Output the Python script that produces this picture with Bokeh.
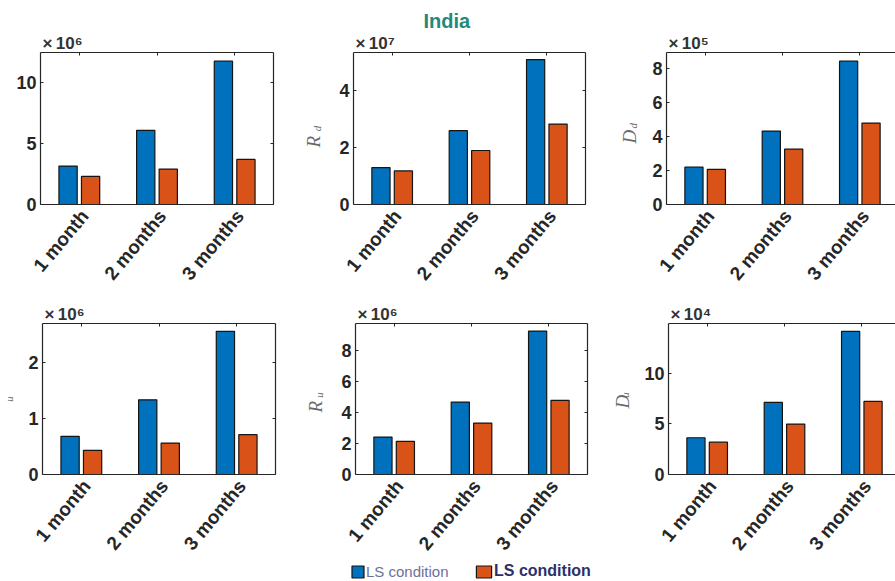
import math

from bokeh.embed import file_html
from bokeh.layouts import column, row
from bokeh.models import (ColumnDataSource, FixedTicker, Legend, LegendItem,
                          LinearAxis, Range1d, Title)
from bokeh.plotting import figure
from bokeh.resources import INLINE
from bokeh.transform import dodge

# ---------------------------------------------------------------- data
periods = ["1 month", "2 months", "3 months"]
legend_labels = ["LS condition", "LS condition"]

# bar heights as mantissas (value / 10**exponent), first and second scenario
i_d_first = [3.16, 6.10, 11.79]
i_d_second = [2.31, 2.91, 3.71]
r_d_first = [1.30, 2.60, 5.10]
r_d_second = [1.18, 1.90, 2.83]
d_d_first = [2.19, 4.31, 8.41]
d_d_second = [2.06, 3.25, 4.78]
i_u_first = [0.68, 1.33, 2.55]
i_u_second = [0.43, 0.56, 0.71]
r_u_first = [2.41, 4.66, 9.23]
r_u_second = [2.13, 3.31, 4.77]
d_u_first = [3.62, 7.11, 14.10]
d_u_second = [3.19, 4.97, 7.20]

exponents = [6, 7, 5, 6, 6, 4]
y_tops = [12.5, 5.35, 8.92, 2.69, 9.72, 14.88]
y_ticks = [[0, 5, 10], [0, 2, 4], [0, 2, 4, 6, 8],
           [0, 1, 2], [0, 2, 4, 6, 8], [0, 5, 10]]

# ---------------------------------------------------------------- style
BLUE = "#0072BD"
ORANGE = "#D95319"
EDGE = "#151515"
AXIS = "#262626"
LABEL_GRAY = "#6a6a6a"
FONT = "Liberation Sans"
SERIF = "Liberation Serif"
SUPERSCRIPT = str.maketrans("0123456789", "⁰¹²³⁴⁵⁶⁷⁸⁹")

positions = list(range(1, len(periods) + 1))
LABEL_SHIFT = 0.07          # category labels sit a little right of the group centre
BAR_OFFSET = 0.145
BAR_WIDTH = 0.235

# column geometry: left border, frame width, right border, x-range end
COLS = [(40, 233, 27, 3.5), (53, 232, 25, 3.5), (56, 229, 0, 0.5 + 3 * 229 / 232)]
# row geometry: top border, frame height, bottom border
ROWS = [(52, 152, 92), (27, 151, 86)]
PAGE_WIDTH = 895
LEGEND_HEIGHT = 21


def style_axis(ax, ticks):
    ax.ticker = FixedTicker(ticks=ticks)
    ax.axis_line_color = AXIS
    ax.axis_line_width = 1.2
    ax.major_tick_line_color = AXIS
    ax.minor_tick_line_color = None
    ax.major_tick_out = 0
    ax.major_tick_in = 3


def bare_axis(ticks):
    ax = LinearAxis(major_label_text_color=None, major_label_text_font_size="1px",
                    major_label_standoff=0)
    style_axis(ax, ticks)
    return ax


def add_bars(p, source, **kw):
    r1 = p.vbar(x=dodge("x", -BAR_OFFSET), top="first", width=BAR_WIDTH, source=source,
                fill_color=BLUE, line_color=EDGE, line_width=1.2, **kw)
    r2 = p.vbar(x=dodge("x", BAR_OFFSET), top="second", width=BAR_WIDTH, source=source,
                fill_color=ORANGE, line_color=EDGE, line_width=1.2, **kw)
    return r1, r2


def make_panel(first, second, exp, y_top, ticks, col, rowg, right_box=True):
    bl, fw, br, x_end = col
    bt, fh, bb = rowg
    p = figure(frame_width=fw, frame_height=fh,
               min_border_left=bl, min_border_right=br,
               min_border_top=bt, min_border_bottom=bb,
               x_range=Range1d(0.5, x_end), y_range=Range1d(0, y_top),
               output_backend="svg", toolbar_location=None,
               background_fill_color="white", border_fill_color="white",
               outline_line_color=None)
    p.xgrid.visible = False
    p.ygrid.visible = False

    add_bars(p, ColumnDataSource(dict(x=positions, first=first, second=second)))

    # bottom category axis, labels tilted
    label_ticks = [pos + LABEL_SHIFT for pos in positions]
    xa = p.xaxis[0]
    style_axis(xa, label_ticks)
    xa.major_tick_in = 0
    xa.major_label_overrides = {t: name for t, name in zip(label_ticks, periods)}
    xa.major_label_orientation = math.radians(50)
    xa.major_label_text_font = FONT
    xa.major_label_text_font_style = "bold"
    xa.major_label_text_font_size = "19px"
    xa.major_label_text_color = AXIS
    xa.major_label_standoff = 8

    # left value axis
    ya = p.yaxis[0]
    style_axis(ya, ticks)
    ya.major_label_text_font = FONT
    ya.major_label_text_font_style = "bold"
    ya.major_label_text_font_size = "18px"
    ya.major_label_text_color = AXIS
    ya.major_label_standoff = 4

    # remaining box edges with inward ticks
    p.add_layout(bare_axis(positions), "above")
    if right_box:
        p.add_layout(bare_axis(ticks), "right")

    # exponent note above the value axis
    p.add_layout(Title(text="×\u2009" + "10" + str(exp).translate(SUPERSCRIPT),
                       align="left", offset=2, standoff=0,
                       text_font=FONT, text_font_style="bold", text_font_size="17px",
                       text_color="#333333"), "above")
    return p


def y_label(p, main, sub, sub_standoff, main_offset=0, main_standoff=0, pad_before=0):
    ya = p.yaxis[0]
    ya.axis_label = "\u00a0" * pad_before + sub
    ya.axis_label_standoff = sub_standoff
    ya.axis_label_text_font = SERIF
    ya.axis_label_text_font_style = "italic"
    ya.axis_label_text_font_size = "11px"
    ya.axis_label_text_color = LABEL_GRAY
    if main:
        p.add_layout(Title(text=main, align="left", offset=main_offset,
                           standoff=main_standoff, text_font=SERIF,
                           text_font_style="italic", text_font_size="19px",
                           text_color=LABEL_GRAY), "left")


p1 = make_panel(i_d_first, i_d_second, exponents[0], y_tops[0], y_ticks[0], COLS[0], ROWS[0])
p2 = make_panel(r_d_first, r_d_second, exponents[1], y_tops[1], y_ticks[1], COLS[1], ROWS[0])
p3 = make_panel(d_d_first, d_d_second, exponents[2], y_tops[2], y_ticks[2], COLS[2], ROWS[0],
                right_box=False)
p4 = make_panel(i_u_first, i_u_second, exponents[3], y_tops[3], y_ticks[3], COLS[0], ROWS[1])
p5 = make_panel(r_u_first, r_u_second, exponents[4], y_tops[4], y_ticks[4], COLS[1], ROWS[1])
p6 = make_panel(d_u_first, d_u_second, exponents[5], y_tops[5], y_ticks[5], COLS[2], ROWS[1],
                right_box=False)

y_label(p2, "R", "d", 13, main_offset=57, main_standoff=-30)
y_label(p3, "D", "d", 10, main_offset=61, main_standoff=-30, pad_before=2)
y_label(p4, "", "u", 10)
y_label(p5, "R", "u", 13, main_offset=62, main_standoff=-30, pad_before=3)
y_label(p6, "D", "u", 10, main_offset=66, main_standoff=-32, pad_before=3)

# figure title over the middle column
p2.add_layout(Title(text="India", align="left", offset=70, standoff=0,
                    text_font=FONT, text_font_style="bold", text_font_size="20px",
                    text_color="#22897c"), "above")

# legend strip along the bottom of the page; its key glyphs come from hidden
# copies of the bar renderers so the swatches carry the same fill and edge
key = figure(width=PAGE_WIDTH, height=LEGEND_HEIGHT, min_border=0,
             x_range=Range1d(0, 1), y_range=Range1d(0, 1),
             x_axis_location=None, y_axis_location=None,
             output_backend="svg", toolbar_location=None,
             background_fill_color="white", border_fill_color="white",
             outline_line_color=None)
key.xgrid.visible = False
key.ygrid.visible = False
key_first, key_second = add_bars(
    key, ColumnDataSource(dict(x=positions, first=r_u_first, second=r_u_second)),
    visible=False)

leg_common = dict(orientation="horizontal", glyph_height=15, label_height=15,
                  padding=0, margin=0, border_line_color=None,
                  background_fill_alpha=0, inactive_fill_alpha=0,
                  label_text_font=FONT)
key.add_layout(Legend(items=[LegendItem(label=legend_labels[0], renderers=[key_first])],
                      location=(350, 4), glyph_width=15, label_standoff=1,
                      label_text_font_size="15px", label_text_color="#6d7199",
                      **leg_common))
key.add_layout(Legend(items=[LegendItem(label=legend_labels[1], renderers=[key_second])],
                      location=(474, 4), glyph_width=19, label_standoff=1,
                      label_text_font_size="16px", label_text_font_style="bold",
                      label_text_color="#2c2f6b", **leg_common))

layout = column(row(p1, p2, p3), row(p4, p5, p6), key)

with open("out.html", "w") as fh:
    fh.write(file_html(layout, INLINE, title="India"))
